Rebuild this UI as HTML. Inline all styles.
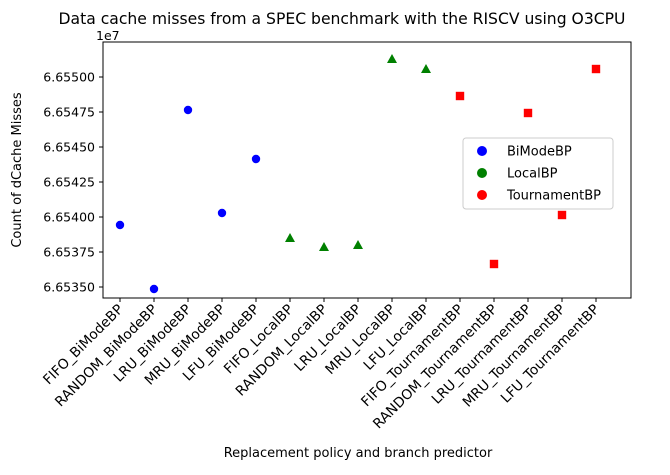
<!DOCTYPE html>
<html><head><meta charset="utf-8"><style>
body{margin:0;background:#fff;}
svg text{font-family:"DejaVu Sans","Liberation Sans",sans-serif;fill:#000;}
</style></head><body>
<svg id="chart" width="670" height="470" xmlns="http://www.w3.org/2000/svg">
<text x="342" y="24" font-size="15.6" text-anchor="middle">Data cache misses from a SPEC benchmark with the RISCV using O3CPU</text>
<text x="96" y="40" font-size="12.5">1e7</text>
<text x="358" y="457" font-size="13" text-anchor="middle">Replacement policy and branch predictor</text>
<text transform="translate(21,170) rotate(-90)" font-size="13" text-anchor="middle">Count of dCache Misses</text>
<g id="ticks"></g>
<g id="marks"></g>
<rect x="103" y="42" width="528" height="256" fill="none" stroke="#000" stroke-width="1"/>
<g>
<rect x="463" y="138" width="150" height="71" rx="3" fill="#fff" stroke="#ccc"/>
<g><circle cx="482" cy="151" r="5" fill="#0000ff"/><text x="507" y="155.5" font-size="13">BiModeBP</text></g>
<g><circle cx="482" cy="173" r="5" fill="#008000"/><text x="507" y="177.5" font-size="13">LocalBP</text></g>
<g><circle cx="482" cy="195" r="5" fill="#ff0000"/><text x="507" y="199.5" font-size="13">TournamentBP</text></g>
</g>
</svg>
<script>
const categories=["FIFO_BiModeBP","RANDOM_BiModeBP","LRU_BiModeBP","MRU_BiModeBP","LFU_BiModeBP","FIFO_LocalBP","RANDOM_LocalBP","LRU_LocalBP","MRU_LocalBP","LFU_LocalBP","FIFO_TournamentBP","RANDOM_TournamentBP","LRU_TournamentBP","MRU_TournamentBP","LFU_TournamentBP"];
const values=[66539429,66534857,66547643,66540286,66544143,66538500,66537857,66538000,66551286,66550571,66548643,66536643,66547429,66540143,66550571];
const groups=["BiModeBP","BiModeBP","BiModeBP","BiModeBP","BiModeBP","LocalBP","LocalBP","LocalBP","LocalBP","LocalBP","TournamentBP","TournamentBP","TournamentBP","TournamentBP","TournamentBP"];
const yTicks=[66535000,66537500,66540000,66542500,66545000,66547500,66550000];
const yTickLabels=["6.65350","6.65375","6.65400","6.65425","6.65450","6.65475","6.65500"];
const NS="http://www.w3.org/2000/svg";
function xs(i){return 120+i*34;}
function ys(v){return 287-(v-66535000)/2500*35;}
const tg=document.getElementById('ticks'),mg=document.getElementById('marks');
function mk(t,a,p){const e=document.createElementNS(NS,t);for(const k in a)e.setAttribute(k,a[k]);p.appendChild(e);return e;}
yTicks.forEach((v,i)=>{const y=ys(v);
const l=mk('line',{x1:99,x2:103,y1:y,y2:y,stroke:'#000'},tg);


const t=mk('text',{x:95,y:y+4.5,'font-size':12.5,'text-anchor':'end'},tg);t.textContent=yTickLabels[i];


});
categories.forEach((c,i)=>{const x=xs(i);
const l=mk('line',{x1:x,x2:x,y1:298,y2:302,stroke:'#000'},tg);


const t=mk('text',{transform:`translate(${x+4},${310}) rotate(-45)`,'font-size':13.8,'text-anchor':'end'},tg);t.textContent=c;


const y=ys(values[i]);let e;
if(groups[i]==="BiModeBP"){e=mk('circle',{cx:x,cy:y,r:4.2,fill:'#0000ff'},mg);}
else if(groups[i]==="LocalBP"){e=mk('polygon',{points:`${x},${y-5} ${x-5},${y+4} ${x+5},${y+4}`,fill:'#008000'},mg);}
else{e=mk('rect',{x:x-4.2,y:y-4.2,width:8.4,height:8.4,fill:'#ff0000'},mg);}


});
</script>
</body></html>
